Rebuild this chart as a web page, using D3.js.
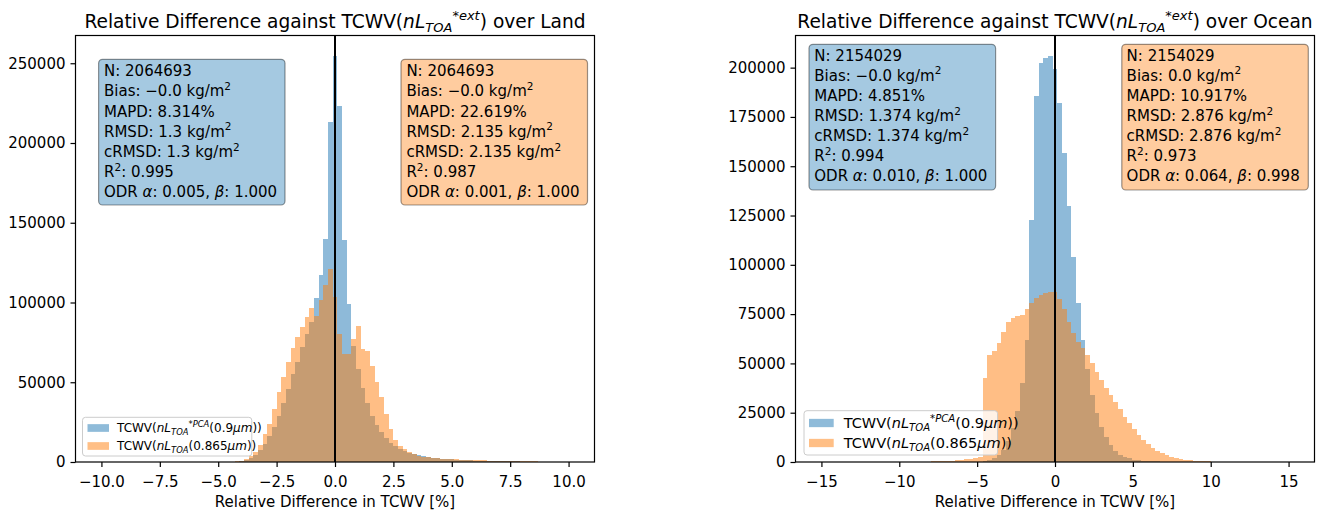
<!DOCTYPE html>
<html><head><meta charset="utf-8">
<script src="https://cdn.jsdelivr.net/npm/d3@7"></script>
<style>
body{margin:0;background:#fff;}
text{font-family:"DejaVu Sans",sans-serif;fill:#000;}
</style></head>
<body><svg id="c" width="1323" height="513"></svg>
<script>
// ---------- data ----------
const landBinStart = -10.1, landBinWidth = 0.2;
const landBlue = [0,0,0,0,0,0,0,0,0,0,0,0,0,0,0,0,0,0,0,0,
 20,30,40,60,80,100,130,170,220,300,600,1300,2500,4500,7500,11000,16000,22000,29000,37000,
 46000,55000,63000,72000,80000,88000,103000,117500,140000,213000,254500,223000,139000,99000,73000,
 58000,46500,37000,29000,23000,18500,15000,12200,10000,8300,6900,5800,4900,4200,3600,
 3100,2700,2350,2050,1800,1600,1400,1250,1100,980,870,780,700,630,570,510,460,420,380,340,
 310,280,250,230,210,190,170,155,140,130,120];
const landOrange = [0,0,0,0,0,0,0,0,0,0,0,0,0,0,0,0,0,0,0,0,0,0,0,0,0,
 30,60,110,200,450,900,1800,3500,6500,10700,17400,23600,33000,44000,53500,
 62500,71700,78500,84700,91000,96400,91500,101500,111000,121300,103500,80500,68000,67800,77000,
 85500,71000,69600,60200,50200,41000,30300,21000,13800,10000,8400,6300,4800,4000,3300,
 2900,2600,2350,2150,1950,1800,1650,1500,1380,1260,1150,1050,960,880,800,730,660,600,540,490,
 440,400,360,330,300,270,240,220,200,180,160];

const oceanBinStart = -15.15, oceanBinWidth = 0.3;
const oceanBlue = [0,0,0,0,0,0,0,0,0,0,0,0,0,0,0,0,0,0,0,0,0,0,0,0,0,0,0,0,0,0,
 20,40,70,120,250,500,1000,1800,3300,6000,10500,17000,26000,40000,62000,
 122700,185700,202500,204800,206000,199500,182000,156600,130000,104000,80400,62000,47000,34000,25000,
 17500,12500,8500,5600,3800,2600,1800,1250,900,650,480,350,260,190,140,100,70,50,35,25,15,
 0,0,0,0,0,0,0,0,0,0,0,0,0,0,0,0,0,0,0,0];
const oceanOrange = [0,0,0,0,0,0,0,0,0,0,0,0,0,0,0,0,0,
 20,40,60,90,120,160,210,270,340,430,540,680,850,1050,1300,1600,2000,2500,
 42400,54500,56200,60500,66000,71000,73200,73800,74500,77500,80500,83000,84500,85500,86300,
 86000,82500,77500,71000,65500,61000,57600,54500,50000,45500,41500,37500,34000,30600,26700,
 23000,19600,16600,13800,11300,9100,7300,5800,4500,3500,2700,2100,1600,1250,950,
 720,540,410,310,230,170,120,85,60,40,25,15,
 0,0,0,0,0,0,0,0,0];

const landXTicks = [-10,-7.5,-5,-2.5,0,2.5,5,7.5,10];
const landYTicks = [0,50000,100000,150000,200000,250000];
const oceanXTicks = [-15,-10,-5,0,5,10,15];
const oceanYTicks = [0,25000,50000,75000,100000,125000,150000,175000,200000];

const landBlueStats = ["N: 2064693","Bias: −0.0 kg/m|2","MAPD: 8.314%","RMSD: 1.3 kg/m|2","cRMSD: 1.3 kg/m|2","R|2: 0.995","ODR α: 0.005, β: 1.000"];
const landOrangeStats = ["N: 2064693","Bias: −0.0 kg/m|2","MAPD: 22.619%","RMSD: 2.135 kg/m|2","cRMSD: 2.135 kg/m|2","R|2: 0.987","ODR α: 0.001, β: 1.000"];
const oceanBlueStats = ["N: 2154029","Bias: −0.0 kg/m|2","MAPD: 4.851%","RMSD: 1.374 kg/m|2","cRMSD: 1.374 kg/m|2","R|2: 0.994","ODR α: 0.010, β: 1.000"];
const oceanOrangeStats = ["N: 2154029","Bias: 0.0 kg/m|2","MAPD: 10.917%","RMSD: 2.876 kg/m|2","cRMSD: 2.876 kg/m|2","R|2: 0.973","ODR α: 0.064, β: 0.998"];

const BLUE = "#1f77b4", ORANGE = "#ff7f0e";
const svg = d3.select("#c");

// rich text: parts [text, style] style: n normal, i italic, sb sub italic, sp sup italic, s2 sup normal
function rich(sel, parts, fs){
  let shift = 0;
  parts.forEach(([t, st])=>{
    let target = 0, size = fs, italic = false;
    if(st==="i") italic = true;
    if(st==="sb"){ target = 0.22*fs; size = 0.7*fs; italic = true; }
    if(st==="sp"){ target = -0.42*fs; size = 0.7*fs; italic = true; }
    if(st==="s2"){ target = -0.42*fs; size = 0.7*fs; }
    const ts = sel.append("tspan").text(t).attr("font-size", size).attr("dy", target - shift);
    if(italic) ts.attr("font-style","italic");
    shift = target;
  });
}

function statLine(sel, line, fs){
  const parts = [];
  const segs = line.split("|");
  segs.forEach((s, k)=>{
    if(k>0){ parts.push([s[0], "s2"]); s = s.slice(1); }
    let buf = "";
    for(const ch of s){
      if(ch==="α"||ch==="β"){ if(buf) parts.push([buf,"n"]); buf=""; parts.push([ch,"i"]); }
      else buf += ch;
    }
    if(buf) parts.push([buf,"n"]);
  });
  rich(sel, parts, fs);
}

function panel(cfg){
  const g = svg.append("g");
  const x = d3.scaleLinear().domain(cfg.xdom).range([cfg.left, cfg.right]);
  const y = d3.scaleLinear().domain([0, cfg.ymax]).range([cfg.bottom, cfg.top]);

  const drawHist = (vals, color) => {
    const hg = g.append("g").attr("opacity", 0.5);
    hg.selectAll("rect").data(vals.map((v,i)=>({v, x0: cfg.binStart + i*cfg.binWidth, x1: cfg.binStart + (i+1)*cfg.binWidth})).filter(d=>d.v>0))
      .join("rect")
      .attr("x", d=>x(d.x0)).attr("width", d=>x(d.x1)-x(d.x0))
      .attr("y", d=>y(d.v)).attr("height", d=>y(0)-y(d.v))
      .attr("fill", color).attr("shape-rendering","crispEdges");
  };
  drawHist(cfg.blue, BLUE);
  drawHist(cfg.orange, ORANGE);

  g.append("line").attr("x1", x(0)).attr("x2", x(0)).attr("y1", cfg.top).attr("y2", cfg.bottom)
    .attr("stroke","#000").attr("stroke-width",2);

  const drawBox = (b, lines, color) => {
    g.append("rect").attr("x", b.x).attr("y", b.y).attr("width", b.w).attr("height", b.h)
      .attr("rx",4).attr("ry",4).attr("fill", color).attr("fill-opacity",0.4)
      .attr("stroke","#000").attr("stroke-opacity",0.4).attr("stroke-width",1.2);
    lines.forEach((ln,k)=>{
      const t = g.append("text").attr("x", b.tx).attr("y", b.ty + k*cfg.lineStep).attr("font-size",15);
      statLine(t, ln, 15);
    });
  };
  drawBox(cfg.box1, cfg.stats1, BLUE);
  drawBox(cfg.box2, cfg.stats2, ORANGE);

  const L = cfg.legend;
  g.append("rect").attr("x",L.x).attr("y",L.y).attr("width",L.w).attr("height",L.h)
    .attr("rx",3).attr("fill","#fff").attr("fill-opacity",0.8).attr("stroke","#ccc").attr("stroke-width",1);
  [[BLUE, [["TCWV(","n"],["nL","i"],["TOA","sb"],["*PCA","sp"],["(0.9","n"],["μm","i"],["))","n"]]],
   [ORANGE, [["TCWV(","n"],["nL","i"],["TOA","sb"],["(0.865","n"],["μm","i"],["))","n"]]]].forEach(([col, parts],k)=>{
    const cy = L.row0 + k*L.rowStep;
    g.append("rect").attr("x", L.px).attr("y", cy - L.ph/2).attr("width", L.pw).attr("height", L.ph)
      .attr("fill", col).attr("fill-opacity",0.5);
    const t = g.append("text").attr("x", L.tx).attr("y", cy + 0.35*L.fs).attr("font-size", L.fs);
    rich(t, parts, L.fs);
  });

  g.append("rect").attr("x",cfg.left).attr("y",cfg.top).attr("width",cfg.right-cfg.left).attr("height",cfg.bottom-cfg.top)
    .attr("fill","none").attr("stroke","#000").attr("stroke-width",1.2);

  const xa = g.append("g").attr("transform",`translate(0,${cfg.bottom})`)
    .call(d3.axisBottom(x).tickValues(cfg.xticks).tickFormat(cfg.xfmt).tickSizeOuter(0).tickSize(5).tickPadding(6));
  xa.select(".domain").remove();
  xa.selectAll("line").attr("stroke-width",1.2);
  xa.selectAll("text").attr("font-size",15).attr("font-family","DejaVu Sans").attr("dy","0.95em");
  const ya = g.append("g").attr("transform",`translate(${cfg.left},0)`)
    .call(d3.axisLeft(y).tickValues(cfg.yticks).tickFormat(d3.format("d")).tickSizeOuter(0).tickSize(5).tickPadding(5));
  ya.select(".domain").remove();
  ya.selectAll("line").attr("stroke-width",1.2);
  ya.selectAll("text").attr("font-size",15).attr("font-family","DejaVu Sans");

  g.append("text").attr("x",(cfg.left+cfg.right)/2).attr("y",507).attr("text-anchor","middle")
    .attr("font-size",15).text("Relative Difference in TCWV [%]");
  const tt = g.append("text").attr("x",(cfg.left+cfg.right)/2).attr("y",27.5).attr("text-anchor","middle").attr("font-size",18.6);
  rich(tt, [["Relative Difference against TCWV(","n"],["nL","i"],["TOA","sb"],["*ext","sp"],[")","n"],[" over "+cfg.name,"n"]], 18.6);
}

panel({
  name:"Land", left:75.5, right:594.5, top:35.5, bottom:462,
  xdom:[-11.11, 11.11], ymax:267400, binStart:landBinStart, binWidth:landBinWidth,
  blue:landBlue, orange:landOrange, xticks:landXTicks, yticks:landYTicks, xfmt:d3.format(".1f"),
  stats1:landBlueStats, stats2:landOrangeStats, lineStep:20.15,
  box1:{x:98.6,y:59.3,w:186.4,h:145.7,tx:104,ty:76.2},
  box2:{x:401,y:59.3,w:186.5,h:145.7,tx:406.4,ty:76.2},
  legend:{x:82.5,y:417.3,w:169.3,h:38.7,px:87.5,pw:21.5,ph:7.7,row0:428,rowStep:18,tx:117,fs:12}
});
panel({
  name:"Ocean", left:795.5, right:1314.5, top:35.5, bottom:462,
  xdom:[-16.665, 16.665], ymax:216300, binStart:oceanBinStart, binWidth:oceanBinWidth,
  blue:oceanBlue, orange:oceanOrange, xticks:oceanXTicks, yticks:oceanYTicks, xfmt:d3.format("d"),
  stats1:oceanBlueStats, stats2:oceanOrangeStats, lineStep:20.1,
  box1:{x:809,y:44.3,w:186.6,h:145.7,tx:814.3,ty:60.6},
  box2:{x:1121.8,y:44.3,w:186.5,h:145.7,tx:1126.6,ty:60.6},
  legend:{x:804,y:410.7,w:193.6,h:44.3,px:809,pw:24.7,ph:8.3,row0:423,rowStep:20,tx:843.7,fs:14.5}
});
</script></body></html>
